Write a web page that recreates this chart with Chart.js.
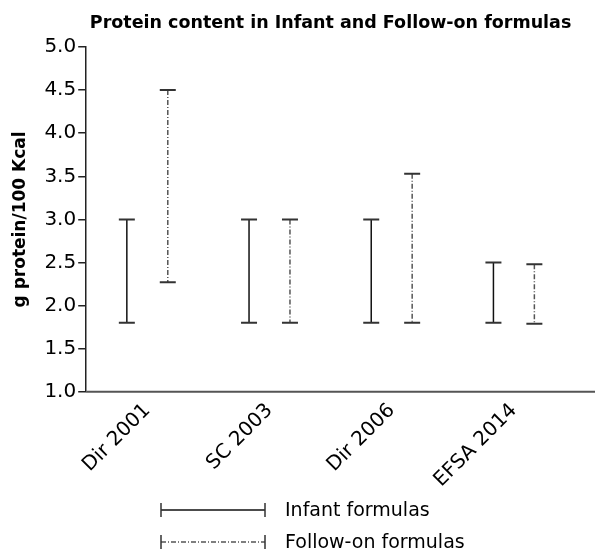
<!DOCTYPE html>
<html>
<head>
<meta charset="utf-8">
<script src="https://cdn.jsdelivr.net/npm/chart.js@4"></script>
<style>
  html, body { margin: 0; padding: 0; background: #fff; }
  #wrap { width: 595px; height: 551px; position: relative; }
</style>
</head>
<body>
<div id="wrap"><canvas id="proteinChart"></canvas></div>
<script>
// --- DATA ---
const categories = ['Dir 2001', 'SC 2003', 'Dir 2006', 'EFSA 2014'];
const infantMin = [1.8, 1.8, 1.8, 1.8];
const infantMax = [3.0, 3.0, 3.0, 2.5];
const followOnMin = [2.27, 1.8, 1.8, 1.79];
const followOnMax = [4.5, 3.0, 3.53, 2.48];
const yTicks = [1.0, 1.5, 2.0, 2.5, 3.0, 3.5, 4.0, 4.5, 5.0];

const FONT = "'DejaVu Sans', sans-serif";
const solid = [];
const dashDot = [5, 2, 1, 2];

// min/max pairs for floating bars
const pairs = (lo, hi) => lo.map((v, i) => [v, hi[i]]);

// draws each range as a whisker line with caps, using the bar element positions
const whiskerPlugin = {
    id: 'whiskers',
    afterDatasetsDraw(chart) {
        const ctx = chart.ctx;
        chart.data.datasets.forEach((ds, di) => {
            const meta = chart.getDatasetMeta(di);
            meta.data.forEach(bar => {
                const x = bar.x, top = bar.y, bottom = bar.base;
                ctx.save();
                ctx.strokeStyle = ds.lineColor;
                ctx.lineWidth = 1.5;
                ctx.setLineDash(ds.dash);
                ctx.beginPath();
                ctx.moveTo(x, top);
                ctx.lineTo(x, bottom);
                ctx.stroke();
                ctx.setLineDash([]);
                ctx.strokeStyle = '#333';
                ctx.lineWidth = 2;
                ctx.beginPath();
                ctx.moveTo(x - 8, top); ctx.lineTo(x + 8, top);
                ctx.moveTo(x - 8, bottom); ctx.lineTo(x + 8, bottom);
                ctx.stroke();
                ctx.restore();
            });
        });
    },
    afterDraw(chart) {
        const ctx = chart.ctx;
        const area = chart.chartArea;
        // x axis line runs on to the right edge
        ctx.save();
        ctx.strokeStyle = '#555';
        ctx.lineWidth = 2;
        ctx.beginPath();
        ctx.moveTo(area.left, area.bottom);
        ctx.lineTo(chart.width, area.bottom);
        ctx.stroke();

        // legend
        const rows = [510, 542];
        chart.data.datasets.forEach((ds, i) => {
            const y = rows[i];
            ctx.strokeStyle = ds.lineColor;
            ctx.lineWidth = 1.3;
            ctx.setLineDash(ds.dash);
            ctx.beginPath();
            ctx.moveTo(161, y); ctx.lineTo(265, y);
            ctx.stroke();
            ctx.setLineDash([]);
            ctx.strokeStyle = '#333';
            ctx.lineWidth = 1.5;
            ctx.beginPath();
            ctx.moveTo(161, y - 7); ctx.lineTo(161, y + 7);
            ctx.moveTo(265, y - 7); ctx.lineTo(265, y + 7);
            ctx.stroke();
            ctx.fillStyle = '#000';
            ctx.font = "19px " + FONT;
            ctx.textBaseline = 'middle';
            ctx.textAlign = 'left';
            ctx.fillText(ds.label, 285, y + 1);
        });
        ctx.restore();
    }
};

const ctx = document.getElementById('proteinChart').getContext('2d');
new Chart(ctx, {
    type: 'bar',
    data: {
        labels: categories,
        datasets: [
            {
                label: 'Infant formulas',
                data: pairs(infantMin, infantMax),
                backgroundColor: 'transparent',
                borderWidth: 0,
                lineColor: '#111',
                dash: solid
            },
            {
                label: 'Follow-on formulas',
                data: pairs(followOnMin, followOnMax),
                backgroundColor: 'transparent',
                borderWidth: 0,
                lineColor: '#555',
                dash: dashDot
            }
        ]
    },
    options: {
        responsive: true,
        maintainAspectRatio: false,
        animation: false,
        categoryPercentage: 0.67,
        barPercentage: 0.9,
        layout: { padding: { left: 10, right: 20, top: 0, bottom: 52 } },
        plugins: {
            legend: { display: false },
            tooltip: { enabled: false },
            title: {
                display: true,
                fullSize: false,
                text: 'Protein content in Infant and Follow-on formulas',
                color: '#000',
                font: { family: FONT, size: 17.5, weight: 'bold' },
                padding: { top: 13, bottom: 13 }
            }
        },
        scales: {
            x: {
                type: 'category',
                offset: true,
                grid: { display: false, drawTicks: false },
                border: { display: false },
                ticks: {
                    color: '#000',
                    font: { family: FONT, size: 20 },
                    minRotation: 45,
                    maxRotation: 45,
                    padding: 7
                }
            },
            y: {
                min: 1,
                max: 5,
                afterBuildTicks: axis => { axis.ticks = yTicks.map(v => ({ value: v })); },
                grid: { drawOnChartArea: false, drawTicks: true, tickLength: 8, color: '#222', lineWidth: 1.5 },
                border: { display: true, color: '#222', width: 1.5 },
                ticks: {
                    color: '#000',
                    font: { family: FONT, size: 20 },
                    padding: 2,
                    callback: v => Number(v).toFixed(1)
                },
                title: {
                    display: true,
                    text: 'g protein/100 Kcal',
                    color: '#000',
                    font: { family: FONT, size: 17, weight: 'bold' },
                    padding: { top: 0, bottom: 12 }
                }
            }
        }
    },
    plugins: [whiskerPlugin]
});
</script>
</body>
</html>
